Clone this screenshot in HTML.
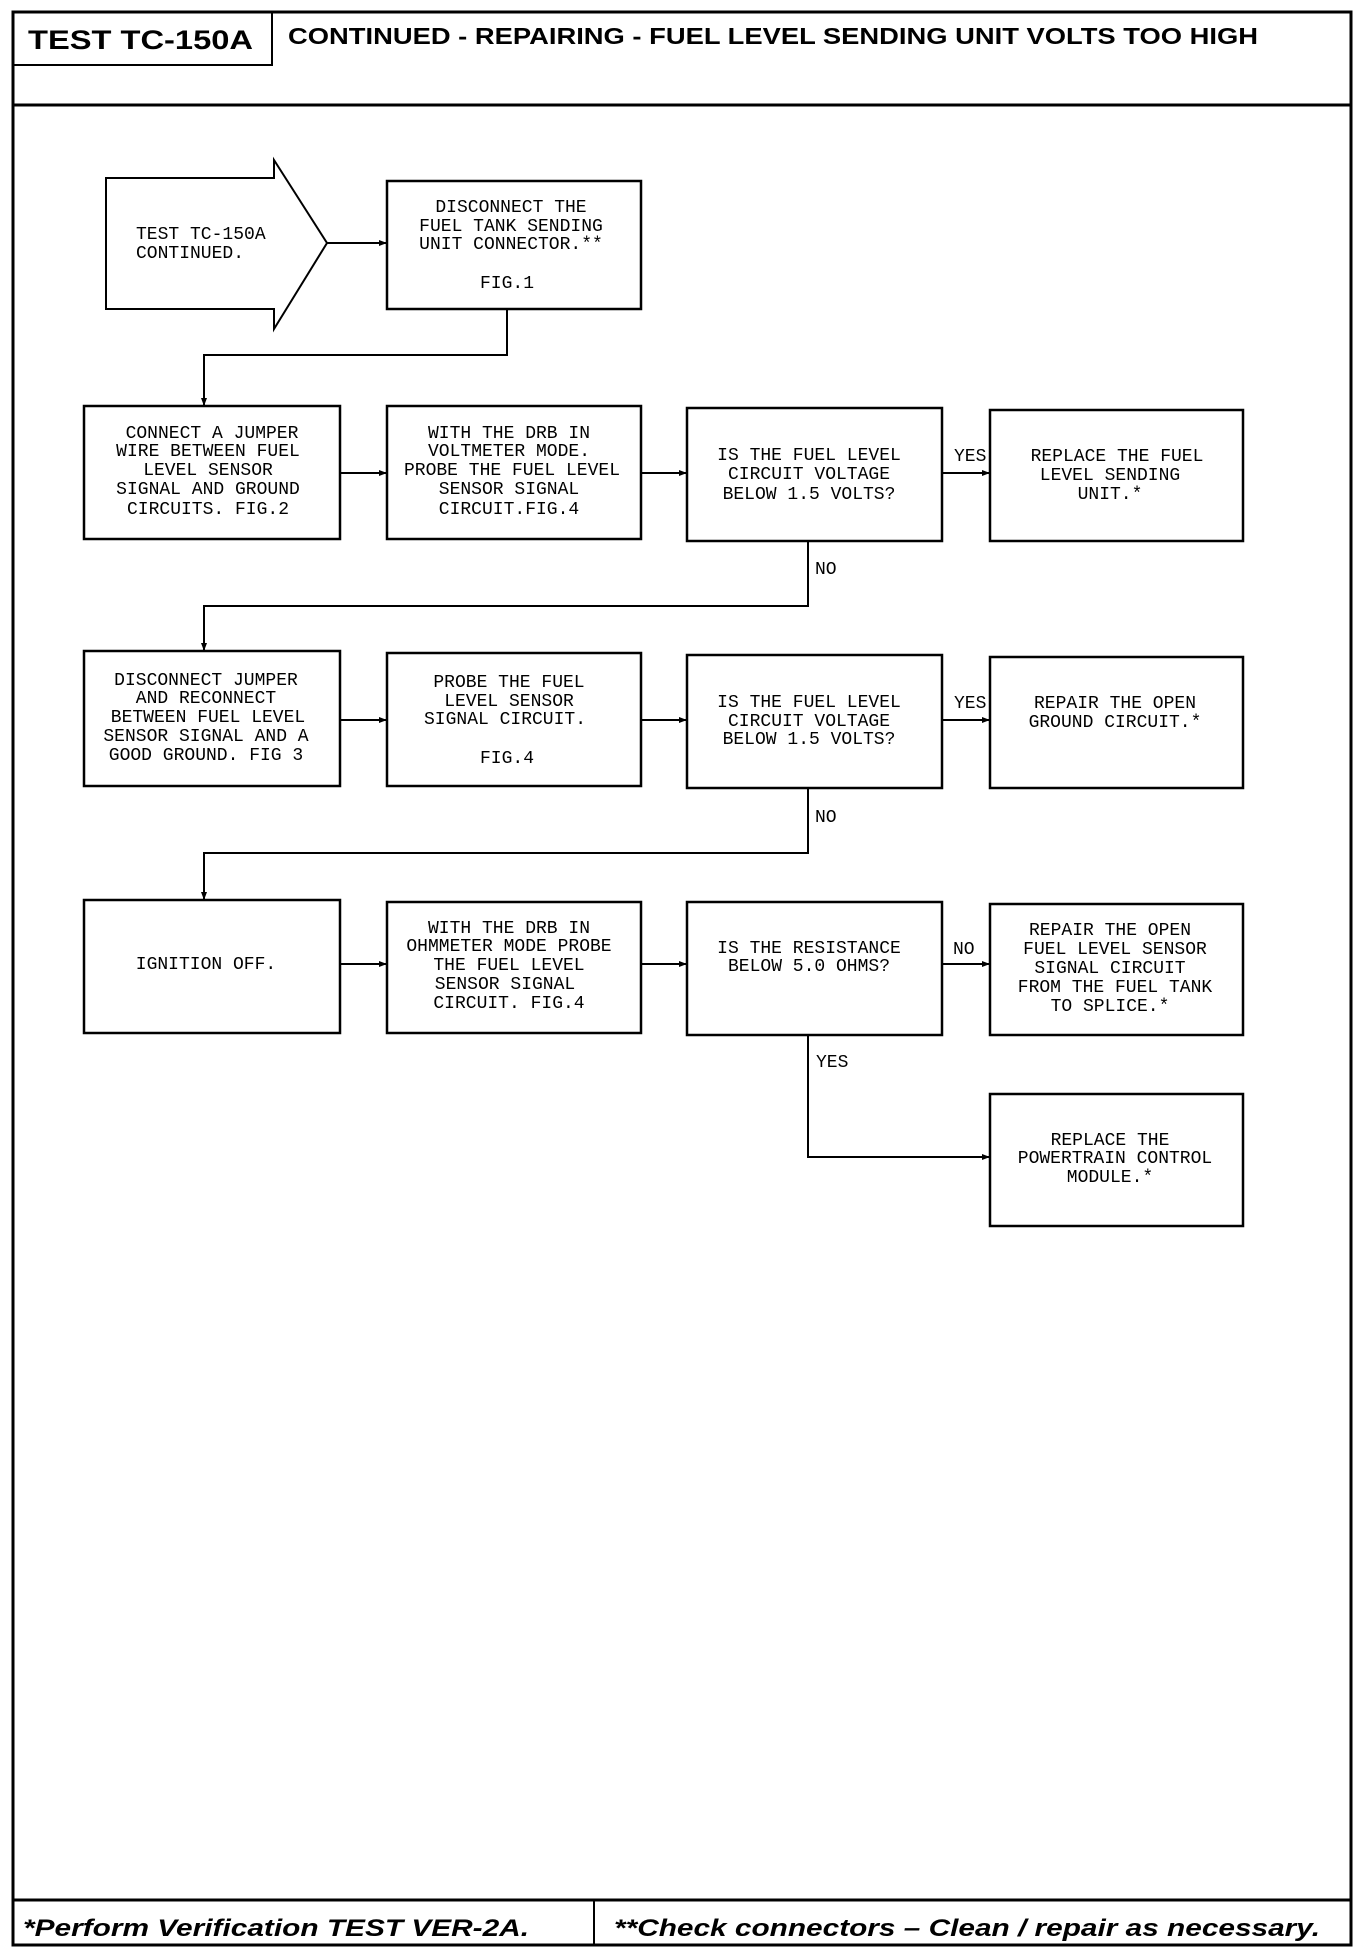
<!DOCTYPE html>
<html><head><meta charset="utf-8"><style>
html,body{margin:0;padding:0;background:#fff;}
svg{display:block;}
.t{font-family:"Liberation Mono",monospace;font-size:18px;fill:#000;text-anchor:middle;}
.l{font-family:"Liberation Mono",monospace;font-size:18px;fill:#000;}
</style></head><body>
<svg width="1360" height="1952" viewBox="0 0 1360 1952" xmlns="http://www.w3.org/2000/svg">
<defs><marker id="a" markerWidth="8" markerHeight="8" refX="7" refY="4" orient="auto" markerUnits="userSpaceOnUse"><path d="M0,1 L8,4 L0,7 Z" fill="#000"/></marker></defs>
<g fill="none" stroke="#000">
<rect x="13" y="12" width="1338" height="1933" stroke-width="3"/>
<rect x="13" y="12" width="259" height="53" stroke-width="2"/>
<line x1="13" y1="105" x2="1351" y2="105" stroke-width="3"/>
<line x1="13" y1="1900" x2="1351" y2="1900" stroke-width="3"/>
<line x1="594" y1="1900" x2="594" y2="1945" stroke-width="2"/>
<polygon points="106,178 274,178 274,160 327,243 274,329 274,309 106,309" stroke-width="2"/>
<g stroke-width="2.5">
<rect x="387" y="181" width="254" height="128"/>
<rect x="84" y="406" width="256" height="133"/>
<rect x="387" y="406" width="254" height="133"/>
<rect x="687" y="408" width="255" height="133"/>
<rect x="990" y="410" width="253" height="131"/>
<rect x="84" y="651" width="256" height="135"/>
<rect x="387" y="653" width="254" height="133"/>
<rect x="687" y="655" width="255" height="133"/>
<rect x="990" y="657" width="253" height="131"/>
<rect x="84" y="900" width="256" height="133"/>
<rect x="387" y="902" width="254" height="131"/>
<rect x="687" y="902" width="255" height="133"/>
<rect x="990" y="904" width="253" height="131"/>
<rect x="990" y="1094" width="253" height="132"/>
</g>
<g stroke-width="2" marker-end="url(#a)">
<line x1="327" y1="243" x2="386" y2="243"/>
<polyline points="507,309 507,355 204,355 204,405"/>
<line x1="340" y1="473" x2="386" y2="473"/>
<line x1="641" y1="473" x2="686" y2="473"/>
<line x1="942" y1="473" x2="989" y2="473"/>
<polyline points="808,541 808,606 204,606 204,650"/>
<line x1="340" y1="720" x2="386" y2="720"/>
<line x1="641" y1="720" x2="686" y2="720"/>
<line x1="942" y1="720" x2="989" y2="720"/>
<polyline points="808,788 808,853 204,853 204,899"/>
<line x1="340" y1="964" x2="386" y2="964"/>
<line x1="641" y1="964" x2="686" y2="964"/>
<line x1="942" y1="964" x2="989" y2="964"/>
<polyline points="808,1035 808,1157 989,1157"/>
</g>
</g>
<text x="28" y="49" font-family="Liberation Sans,sans-serif" font-weight="bold" font-size="27" textLength="225" lengthAdjust="spacingAndGlyphs">TEST TC-150A</text>
<text x="288" y="44" font-family="Liberation Sans,sans-serif" font-weight="bold" font-size="23" textLength="970" lengthAdjust="spacingAndGlyphs">CONTINUED -  REPAIRING - FUEL LEVEL SENDING UNIT VOLTS TOO HIGH</text>
<text x="23" y="1936" font-family="Liberation Sans,sans-serif" font-weight="bold" font-style="italic" font-size="24" textLength="506" lengthAdjust="spacingAndGlyphs">*Perform Verification TEST VER-2A.</text>
<text x="614" y="1936" font-family="Liberation Sans,sans-serif" font-weight="bold" font-style="italic" font-size="24" textLength="706" lengthAdjust="spacingAndGlyphs">**Check connectors – Clean / repair as necessary.</text>
<text class="l" x="136" y="239">TEST TC-150A</text>
<text class="l" x="136" y="258">CONTINUED.</text>
<text class="t" x="511" y="212">DISCONNECT THE</text>
<text class="t" x="511" y="231">FUEL TANK SENDING</text>
<text class="t" x="511" y="249">UNIT CONNECTOR.**</text>
<text class="t" x="507" y="288">FIG.1</text>
<text class="t" x="212" y="438">CONNECT A JUMPER</text>
<text class="t" x="208" y="456">WIRE BETWEEN FUEL</text>
<text class="t" x="208" y="475">LEVEL SENSOR</text>
<text class="t" x="208" y="494">SIGNAL AND GROUND</text>
<text class="t" x="208" y="514">CIRCUITS. FIG.2</text>
<text class="t" x="509" y="438">WITH THE DRB IN</text>
<text class="t" x="509" y="456">VOLTMETER MODE.</text>
<text class="t" x="512" y="475">PROBE THE FUEL LEVEL</text>
<text class="t" x="509" y="494">SENSOR SIGNAL</text>
<text class="t" x="509" y="514">CIRCUIT.FIG.4</text>
<text class="t" x="809" y="460">IS THE FUEL LEVEL</text>
<text class="t" x="809" y="479">CIRCUIT VOLTAGE</text>
<text class="t" x="809" y="499">BELOW 1.5 VOLTS?</text>
<text class="t" x="1117" y="461">REPLACE THE FUEL</text>
<text class="t" x="1110" y="480">LEVEL SENDING</text>
<text class="t" x="1110" y="499">UNIT.*</text>
<text class="l" x="954" y="461">YES</text>
<text class="l" x="815" y="574">NO</text>
<text class="t" x="206" y="685">DISCONNECT JUMPER</text>
<text class="t" x="206" y="703">AND RECONNECT</text>
<text class="t" x="208" y="722">BETWEEN FUEL LEVEL</text>
<text class="t" x="206" y="741">SENSOR SIGNAL AND A</text>
<text class="t" x="206" y="760">GOOD GROUND. FIG 3</text>
<text class="t" x="509" y="687">PROBE THE FUEL</text>
<text class="t" x="509" y="706">LEVEL SENSOR</text>
<text class="t" x="505" y="724">SIGNAL CIRCUIT.</text>
<text class="t" x="507" y="763">FIG.4</text>
<text class="t" x="809" y="707">IS THE FUEL LEVEL</text>
<text class="t" x="809" y="726">CIRCUIT VOLTAGE</text>
<text class="t" x="809" y="744">BELOW 1.5 VOLTS?</text>
<text class="t" x="1115" y="708">REPAIR THE OPEN</text>
<text class="t" x="1115" y="727">GROUND CIRCUIT.*</text>
<text class="l" x="954" y="708">YES</text>
<text class="l" x="815" y="822">NO</text>
<text class="t" x="206" y="969">IGNITION OFF.</text>
<text class="t" x="509" y="933">WITH THE DRB IN</text>
<text class="t" x="509" y="951">OHMMETER MODE PROBE</text>
<text class="t" x="509" y="970">THE FUEL LEVEL</text>
<text class="t" x="505" y="989">SENSOR SIGNAL</text>
<text class="t" x="509" y="1008">CIRCUIT. FIG.4</text>
<text class="t" x="809" y="953">IS THE RESISTANCE</text>
<text class="t" x="809" y="971">BELOW 5.0 OHMS?</text>
<text class="t" x="1110" y="935">REPAIR THE OPEN</text>
<text class="t" x="1115" y="954">FUEL LEVEL SENSOR</text>
<text class="t" x="1110" y="973">SIGNAL CIRCUIT</text>
<text class="t" x="1115" y="992">FROM THE FUEL TANK</text>
<text class="t" x="1110" y="1011">TO SPLICE.*</text>
<text class="l" x="953" y="954">NO</text>
<text class="l" x="816" y="1067">YES</text>
<text class="t" x="1110" y="1145">REPLACE THE</text>
<text class="t" x="1115" y="1163">POWERTRAIN CONTROL</text>
<text class="t" x="1110" y="1182">MODULE.*</text>
</svg>
</body></html>
